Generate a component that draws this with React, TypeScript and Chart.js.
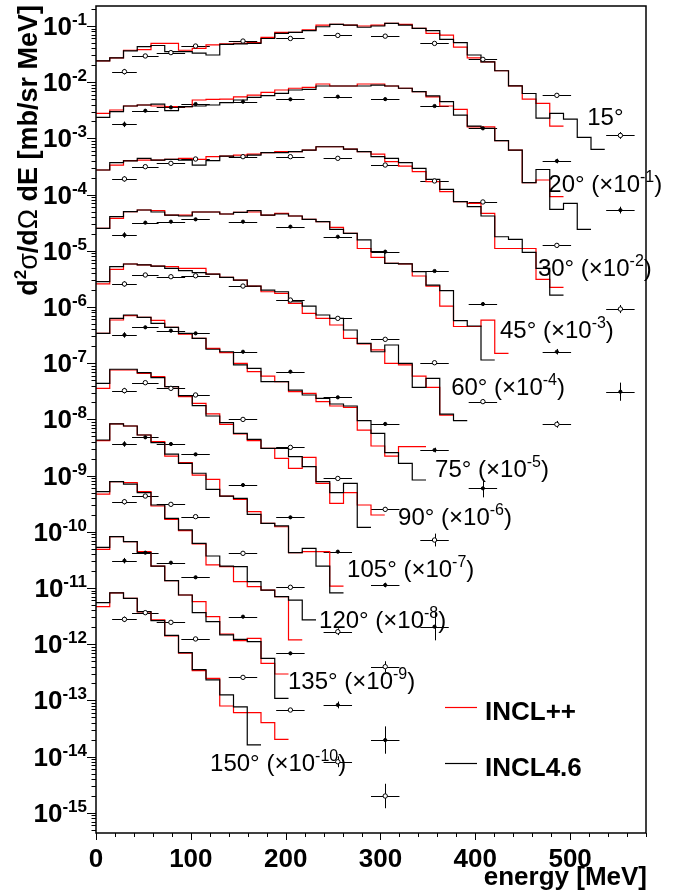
import React, { useEffect, useRef } from "react";
import { Chart, registerables } from "chart.js";

Chart.register(...registerables);

// ---------- axis ranges ----------
const X_MIN = 0;
const X_MAX = 580;
const Y_MIN = 4.37e-16;
const Y_MAX = 0.227;
const BIN_WIDTH = 14.5; // MeV, width of the model histogram bins

const X_MAJOR_TICKS = [0, 100, 200, 300, 400, 500];
const Y_DECADES = [-1, -2, -3, -4, -5, -6, -7, -8, -9, -10, -11, -12, -13, -14, -15];

// ---------- angles and their plotting factors ----------
const ANGLES = [15, 20, 30, 45, 60, 75, 90, 105, 120, 135, 150];
const SCALE_EXPONENTS = [0, -1, -2, -3, -4, -5, -6, -7, -8, -9, -10];

// ---------- INCL++ (red) histograms, values as plotted (already scaled) ----------
const INCLPP_15 = [2.4e-2, 2.7e-2, 3.7e-2, 3.8e-2, 4.9e-2, 4.9e-2, 3.7e-2, 4.0e-2, 4.6e-2, 4.8e-2, 4.9e-2, 5.05e-2, 6.3e-2, 7.7e-2, 7.7e-2, 8.5e-2, 1.04e-1, 1.07e-1, 1.04e-1, 1.0e-1, 1.04e-1, 1.11e-1, 1.07e-1, 9.1e-2, 7.4e-2, 6.9e-2, 4.2e-2, 2.7e-2, 2.3e-2, 1.6e-2, 8.6e-3, 5.0e-3, 4.2e-3, 1.66e-3];
const INCLPP_20 = [2.79e-3, 3.2e-3, 3.77e-3, 3.93e-3, 3.77e-3, 3.67e-3, 3.67e-3, 4.82e-3, 4.96e-3, 5.0e-3, 5.5e-3, 5.9e-3, 6.6e-3, 7.26e-3, 7.8e-3, 8.1e-3, 9.3e-3, 8.56e-3, 8.56e-3, 9.3e-3, 9.3e-3, 8.56e-3, 7.8e-3, 6.8e-3, 5.5e-3, 3.77e-3, 3.29e-3, 1.61e-3, 1.61e-3, 9.1e-4, 6.2e-4, 1.63e-4, 1.82e-4, 9.2e-5];
const INCLPP_30 = [2.74e-4, 3.36e-4, 4.02e-4, 4.12e-4, 4.12e-4, 4.24e-4, 4.42e-4, 4.24e-4, 4.73e-4, 4.85e-4, 5.06e-4, 5.27e-4, 5.57e-4, 5.81e-4, 5.81e-4, 6.2e-4, 7.1e-4, 7.1e-4, 6.45e-4, 5.81e-4, 5.27e-4, 3.86e-4, 3.22e-4, 2.56e-4, 1.7e-4, 1.13e-4, 7.5e-5, 7.0e-5, 4.64e-5, 1.1e-5, 1.1e-5, 1.1e-5, 3.1e-6, 2.24e-6];
const INCLPP_45 = [2.51e-5, 3.78e-5, 4.97e-5, 5.32e-5, 5.17e-5, 4.33e-5, 4.33e-5, 4.9e-5, 4.9e-5, 4.52e-5, 4.84e-5, 4.9e-5, 4.33e-5, 4.64e-5, 4.16e-5, 3.63e-5, 3.3e-5, 2.61e-5, 2.05e-5, 1.1e-5, 7.66e-6, 5.99e-6, 5.84e-6, 3.56e-6, 2.36e-6, 1.04e-6, 4.5e-7, 4.5e-7, 5.85e-7, 1.5e-7];
const INCLPP_60 = [2.57e-6, 4.68e-6, 5.82e-6, 5.6e-6, 5.36e-6, 5.22e-6, 4.88e-6, 4.88e-6, 3.86e-6, 3.37e-6, 3.02e-6, 2.36e-6, 1.87e-6, 1.75e-6, 1.16e-6, 7.7e-7, 6.28e-7, 4.78e-7, 2.77e-7, 2.2e-7, 1.72e-7, 9.95e-8, 9.3e-8, 5.9e-8, 3.71e-8, 1.19e-8];
const INCLPP_75 = [3.4e-7, 5.87e-7, 7.0e-7, 6.55e-7, 5.8e-7, 4.35e-7, 3.3e-7, 2.77e-7, 1.84e-7, 1.54e-7, 9.95e-8, 7.07e-8, 5.9e-8, 4.69e-8, 3.11e-8, 2.91e-8, 2.07e-8, 1.73e-8, 1.64e-8, 6.47e-9, 3.36e-9, 2.23e-9, 3.27e-9, 3.27e-9];
const INCLPP_90 = [3.57e-8, 7.57e-8, 7.57e-8, 6.6e-8, 5.76e-8, 3.82e-8, 2.54e-8, 1.93e-8, 1.25e-8, 8.17e-9, 5.5e-9, 4.18e-9, 3.06e-9, 2.03e-9, 1.35e-9, 2.11e-9, 7.3e-10, 3.21e-10, 4.97e-10, 3.0e-10, 1.99e-10];
const INCLPP_105 = [4.18e-9, 8.3e-9, 7.63e-9, 5.28e-9, 4.02e-9, 2.23e-9, 1.7e-9, 1.02e-9, 8.6e-10, 4.33e-10, 3.78e-10, 2.28e-10, 1.41e-10, 1.23e-10, 4.25e-11, 4.43e-11, 4.43e-11, 1.08e-11];
const INCLPP_120 = [4.7e-10, 7.8e-10, 7.5e-10, 5.17e-10, 2.88e-10, 1.67e-10, 1.05e-10, 6.06e-11, 2.57e-11, 2.4e-11, 1.3e-11, 1.06e-11, 9.2e-12, 7.0e-12, 1.19e-12];
const INCLPP_135 = [4.88e-11, 8.2e-11, 6.7e-11, 4.43e-11, 2.46e-11, 1.35e-11, 7.5e-12, 5.7e-12, 3.09e-12, 1.52e-12, 1.16e-12, 1.27e-12, 4.57e-13, 2.95e-13];
const INCLPP_150 = [4.66e-12, 8.2e-12, 6.55e-12, 3.74e-12, 2.7e-12, 1.4e-12, 6.9e-13, 3.38e-13, 2.47e-13, 7.95e-14, 6.06e-14, 6.06e-14, 4.02e-14, 2.03e-14];

// ---------- INCL4.6 (black) histograms ----------
const INCL46_15 = [2.4e-2, 2.7e-2, 3.6e-2, 4.3e-2, 4.5e-2, 3.5e-2, 3.5e-2, 3.3e-2, 3.05e-2, 4.7e-2, 4.8e-2, 4.9e-2, 6.0e-2, 7.4e-2, 7.7e-2, 8.3e-2, 9.7e-2, 1.07e-1, 1.04e-1, 9.5e-2, 1.0e-1, 1.11e-1, 1.04e-1, 9.1e-2, 8.3e-2, 5.8e-2, 5.05e-2, 3.05e-2, 2.3e-2, 1.6e-2, 8.6e-3, 6.3e-3, 2.3e-3, 2.8e-3, 2.2e-3, 1.04e-3, 6.4e-4];
const INCL46_20 = [2.37e-3, 3.0e-3, 3.77e-3, 3.93e-3, 4.09e-3, 3.11e-3, 3.67e-3, 3.77e-3, 3.93e-3, 4.32e-3, 4.82e-3, 5.38e-3, 5.76e-3, 6.34e-3, 7.26e-3, 7.46e-3, 8.56e-3, 8.56e-3, 8.56e-3, 8.56e-3, 8.9e-3, 8.56e-3, 7.8e-3, 6.8e-3, 5.7e-3, 4.5e-3, 2.6e-3, 1.66e-3, 1.51e-3, 9.1e-4, 6.2e-4, 1.63e-4, 2.8e-4, 5.47e-5, 7.0e-5, 2.41e-5];
const INCL46_30 = [2.74e-4, 3.7e-4, 3.97e-4, 4.42e-4, 4.12e-4, 4.24e-4, 4.12e-4, 3.36e-4, 4.02e-4, 4.85e-4, 4.6e-4, 5.06e-4, 5.57e-4, 5.57e-4, 5.81e-4, 6.2e-4, 7.1e-4, 7.1e-4, 6.45e-4, 5.81e-4, 4.73e-4, 4.42e-4, 3.7e-4, 2.93e-4, 1.87e-4, 1.24e-4, 7.5e-5, 6.1e-5, 4.16e-5, 1.78e-5, 1.6e-5, 9.4e-6, 4.88e-6, 1.63e-6];
const INCL46_45 = [2.51e-5, 4.05e-5, 4.97e-5, 5.32e-5, 4.9e-5, 4.33e-5, 4.16e-5, 4.9e-5, 4.9e-5, 4.52e-5, 4.84e-5, 5.17e-5, 4.33e-5, 4.52e-5, 4.16e-5, 3.63e-5, 3.3e-5, 2.41e-5, 2.05e-5, 1.56e-5, 9.65e-6, 5.99e-6, 5.84e-6, 4.25e-6, 2.46e-6, 1.95e-6, 5.7e-7, 4.59e-7, 1.14e-7];
const INCL46_60 = [2.82e-6, 5.22e-6, 5.82e-6, 5.6e-6, 5.36e-6, 4.88e-6, 4.43e-6, 4.08e-6, 3.86e-6, 3.37e-6, 3.02e-6, 2.36e-6, 2.0e-6, 1.87e-6, 1.24e-6, 1.04e-6, 7.2e-7, 6.28e-7, 3.9e-7, 2.26e-7, 1.6e-7, 2.11e-7, 9.95e-8, 3.71e-8, 5.36e-8, 1.24e-8, 9.5e-9];
const INCL46_75 = [3.4e-7, 6.28e-7, 7.2e-7, 6.55e-7, 5.12e-7, 4.35e-7, 3.4e-7, 2.77e-7, 1.77e-7, 1.6e-7, 9.3e-8, 8.1e-8, 4.69e-8, 4.69e-8, 3.33e-8, 2.72e-8, 2.37e-8, 1.88e-8, 1.73e-8, 9.5e-9, 5.65e-9, 2.56e-9, 1.65e-9, 8.35e-10];
const INCL46_90 = [4.38e-8, 7.8e-8, 7.8e-8, 6.8e-8, 5.53e-8, 3.82e-8, 2.64e-8, 1.76e-8, 1.15e-8, 8.75e-9, 5.65e-9, 4.42e-9, 3.06e-9, 3.06e-9, 2.17e-9, 1.44e-9, 7.8e-10, 4.97e-10, 7.3e-10, 1.2e-10];
const INCL46_105 = [4.3e-9, 8.3e-9, 7.63e-9, 5.28e-9, 3.85e-9, 2.42e-9, 1.65e-9, 1.1e-9, 5.7e-10, 4.33e-10, 3.94e-10, 2.05e-10, 1.41e-10, 1.27e-10, 4.25e-11, 5.08e-11, 2.46e-11, 8.2e-12];
const INCL46_120 = [5.17e-10, 7.8e-10, 7.07e-10, 4.97e-10, 3.0e-10, 1.74e-10, 1.08e-10, 6.23e-11, 3.71e-11, 2.46e-11, 2.4e-11, 1.3e-11, 9.2e-12, 7.0e-12, 6.1e-12, 2.7e-12];
const INCL46_135 = [5.3e-11, 8.2e-11, 6.7e-11, 4.25e-11, 2.46e-11, 1.35e-11, 7.5e-12, 3.64e-12, 2.52e-12, 1.46e-12, 1.22e-12, 1.11e-12, 5.6e-13, 1.09e-13];
const INCL46_150 = [5.48e-12, 8.2e-12, 6.55e-12, 3.79e-12, 2.62e-12, 1.44e-12, 7.07e-13, 3.52e-13, 2.31e-13, 1.25e-13, 7.7e-14, 1.61e-14];

// ---------- experimental data ----------
const EXP_ENERGY = [30, 52, 79, 105, 155, 205, 255, 305, 357, 408, 486, 553];
const EXP_ENERGY_ERR = [13, 14, 15, 15, 15, 15, 15, 15, 15, 15, 15, 15];

const EXP_15 = [1.54e-2, 2.93e-2, 3.36e-2, 4.4e-2, 5.4e-2, 6.0e-2, 6.8e-2, 6.6e-2, 4.9e-2, 2.55e-2, 5.84e-3, 1.13e-3];
const EXP_20 = [1.78e-3, 3.11e-3, 3.57e-3, 4.09e-3, 4.5e-3, 4.96e-3, 5.53e-3, 5.0e-3, 3.77e-3, 1.51e-3, 3.96e-4, 5.3e-5];
const EXP_30 = [1.9e-4, 3.14e-4, 3.6e-4, 4.3e-4, 4.73e-4, 4.73e-4, 4.42e-4, 3.36e-4, 1.75e-4, 7.4e-5, 1.25e-5, 9.2e-7];
const EXP_45 = [1.91e-5, 3.17e-5, 3.3e-5, 3.63e-5, 3.3e-5, 2.69e-5, 1.78e-5, 9.65e-6, 4.37e-6, 1.13e-6, 1.6e-7, 3.11e-8];
const EXP_60 = [2.57e-6, 3.71e-6, 3.46e-6, 3.6e-6, 2.36e-6, 1.33e-6, 6.28e-7, 2.66e-7, 1.02e-7, 2.07e-8, 8.17e-9];
const EXP_75 = [3.18e-7, 4.35e-7, 3.79e-7, 3.4e-7, 1.6e-7, 7.07e-8, 2.47e-8, 8.3e-9, 2.85e-9, 5.94e-10];
const EXP_90 = [3.25e-8, 4.5e-8, 3.57e-8, 2.72e-8, 1.0e-8, 3.18e-9, 8.9e-10, 2.51e-10, 7.14e-11];
const EXP_105 = [3.65e-9, 4.8e-9, 3.65e-9, 2.39e-9, 6.8e-10, 1.81e-10, 4.43e-11, 1.13e-11, 2.05e-12];
const EXP_120 = [3.43e-10, 4.33e-10, 3.08e-10, 1.86e-10, 4.14e-11, 1.03e-11, 1.67e-12, 3.98e-13];
const EXP_135 = [3.06e-11, 4.25e-11, 2.82e-11, 1.55e-11, 3.09e-12, 6.88e-13, 8.3e-14, 1.97e-14];
const EXP_150 = [2.77e-12, 3.64e-12, 2.45e-12, 1.24e-12, 2.57e-13, 6.74e-14, 8.1e-15, 1.99e-15];

// multiplicative (log-symmetric) uncertainty factors of the data
const EXP_ERR_15 = [1.12, 1.06, 1.06, 1.06, 1.06, 1.06, 1.06, 1.06, 1.06, 1.06, 1.08, 1.15];
const EXP_ERR_20 = [1.12, 1.06, 1.06, 1.06, 1.06, 1.06, 1.06, 1.06, 1.06, 1.06, 1.1, 1.15];
const EXP_ERR_30 = [1.12, 1.06, 1.06, 1.06, 1.06, 1.06, 1.06, 1.06, 1.06, 1.06, 1.1, 1.18];
const EXP_ERR_45 = [1.12, 1.06, 1.06, 1.06, 1.06, 1.06, 1.06, 1.06, 1.06, 1.08, 1.12, 1.45];
const EXP_ERR_60 = [1.12, 1.06, 1.06, 1.06, 1.06, 1.06, 1.06, 1.06, 1.06, 1.1, 1.15];
const EXP_ERR_75 = [1.12, 1.06, 1.06, 1.06, 1.06, 1.06, 1.06, 1.06, 1.1, 1.45];
const EXP_ERR_90 = [1.12, 1.06, 1.06, 1.06, 1.06, 1.06, 1.06, 1.1, 1.3];
const EXP_ERR_105 = [1.12, 1.06, 1.06, 1.06, 1.06, 1.06, 1.06, 1.1, 1.75];
const EXP_ERR_120 = [1.12, 1.06, 1.06, 1.06, 1.06, 1.06, 1.15, 1.25];
const EXP_ERR_135 = [1.12, 1.06, 1.06, 1.06, 1.06, 1.06, 1.15, 1.75];
const EXP_ERR_150 = [1.12, 1.06, 1.06, 1.06, 1.06, 1.06, 1.25, 1.65];

// open marker (true) or filled marker (false) for each angle
const EXP_OPEN = [true, false, true, false, true, false, true, false, true, false, true];

// angle label anchors in data coordinates (energy, value): left edge / vertical centre
const LABEL_ENERGY = [518, 477, 466, 426, 374.5, 357.6, 318.6, 264.8, 235.2, 202.5, 120.3];
const LABEL_VALUE = [2.5e-3, 1.6e-4, 5.15e-6, 3.9e-7, 3.78e-8, 1.36e-9, 1.91e-10, 2.18e-11, 2.8e-12, 2.3e-13, 8.0e-15];

const MODEL_NAMES = ["INCL++", "INCL4.6"];
const MODEL_COLORS = ["#ff0000", "#000000"];

const INCLPP = [INCLPP_15, INCLPP_20, INCLPP_30, INCLPP_45, INCLPP_60, INCLPP_75, INCLPP_90, INCLPP_105, INCLPP_120, INCLPP_135, INCLPP_150];
const INCL46 = [INCL46_15, INCL46_20, INCL46_30, INCL46_45, INCL46_60, INCL46_75, INCL46_90, INCL46_105, INCL46_120, INCL46_135, INCL46_150];
const EXP = [EXP_15, EXP_20, EXP_30, EXP_45, EXP_60, EXP_75, EXP_90, EXP_105, EXP_120, EXP_135, EXP_150];
const EXP_ERR = [EXP_ERR_15, EXP_ERR_20, EXP_ERR_30, EXP_ERR_45, EXP_ERR_60, EXP_ERR_75, EXP_ERR_90, EXP_ERR_105, EXP_ERR_120, EXP_ERR_135, EXP_ERR_150];

const FONT = "'Liberation Sans', Arial, Helvetica, sans-serif";

function histPoints(values: number[]) {
  const pts = values.map((v, k) => ({ x: k * BIN_WIDTH, y: v }));
  pts.push({ x: values.length * BIN_WIDTH, y: values[values.length - 1] });
  return pts;
}

type Seg = { t: string; f: string; dy?: number };

function segWidth(ctx: CanvasRenderingContext2D, segs: Seg[]) {
  let w = 0;
  for (const s of segs) {
    ctx.font = s.f;
    w += ctx.measureText(s.t).width;
  }
  return w;
}

function drawSegs(ctx: CanvasRenderingContext2D, segs: Seg[], x: number, y: number, align: "left" | "right" | "center") {
  const w = segWidth(ctx, segs);
  let cx = align === "left" ? x : align === "right" ? x - w : x - w / 2;
  ctx.textAlign = "left";
  ctx.textBaseline = "alphabetic";
  for (const s of segs) {
    ctx.font = s.f;
    ctx.fillText(s.t, cx, y + (s.dy || 0));
    cx += ctx.measureText(s.t).width;
  }
}

const errorBarPlugin = {
  id: "errorBars",
  beforeDatasetsDraw(chart: any) {
    const { ctx } = chart;
    const xs = chart.scales.x;
    const ys = chart.scales.y;
    ctx.save();
    ctx.strokeStyle = "#000";
    ctx.lineWidth = 1;
    EXP.forEach((vals, a) => {
      vals.forEach((v, i) => {
        const e = EXP_ENERGY[i];
        const de = EXP_ENERGY_ERR[i];
        const f = EXP_ERR[a][i];
        const px = Math.round(xs.getPixelForValue(e)) + 0.5;
        const py = Math.round(ys.getPixelForValue(v)) + 0.5;
        ctx.beginPath();
        ctx.moveTo(xs.getPixelForValue(e - de), py);
        ctx.lineTo(xs.getPixelForValue(e + de), py);
        ctx.moveTo(px, ys.getPixelForValue(v * f));
        ctx.lineTo(px, ys.getPixelForValue(v / f));
        ctx.stroke();
      });
    });
    ctx.restore();
  },
};

const decorPlugin = {
  id: "decor",
  afterDraw(chart: any) {
    const { ctx, chartArea } = chart;
    const xs = chart.scales.x;
    const ys = chart.scales.y;
    const { left, right, top, bottom } = chartArea;
    ctx.save();
    ctx.fillStyle = "#000";
    ctx.strokeStyle = "#000";

    // frame
    ctx.lineWidth = 1.5;
    ctx.strokeRect(left, top, right - left, bottom - top);

    // y ticks (outside, on the left)
    ctx.lineWidth = 1;
    ctx.beginPath();
    for (let n = -16; n <= 0; n++) {
      for (let m = 1; m <= 9; m++) {
        const v = m * Math.pow(10, n);
        if (v < Y_MIN || v > Y_MAX) continue;
        const py = Math.round(ys.getPixelForValue(v)) + 0.5;
        const len = m === 1 ? 9 : 4.5;
        ctx.moveTo(left, py);
        ctx.lineTo(left - len, py);
      }
    }
    // x ticks (below)
    for (let e = X_MIN; e <= X_MAX; e += 20) {
      const px = Math.round(xs.getPixelForValue(e)) + 0.5;
      const len = e % 100 === 0 ? 7 : 4;
      ctx.moveTo(px, bottom);
      ctx.lineTo(px, bottom + len);
    }
    ctx.stroke();

    // y tick labels
    const bold26 = `bold 26px ${FONT}`;
    const bold17 = `bold 17px ${FONT}`;
    for (const n of Y_DECADES) {
      const py = ys.getPixelForValue(Math.pow(10, n));
      drawSegs(ctx, [{ t: "10", f: bold26 }, { t: String(n), f: bold17, dy: -10 }], left - 9, py + 9, "right");
    }
    // x tick labels
    ctx.font = `bold 26px ${FONT}`;
    ctx.textAlign = "center";
    for (const e of X_MAJOR_TICKS) {
      ctx.fillText(String(e), xs.getPixelForValue(e), bottom + 34);
    }
    // x title
    ctx.textAlign = "right";
    ctx.fillText("energy [MeV]", right + 1, bottom + 52);

    // y title (rotated)
    ctx.save();
    ctx.translate(37, top - 1);
    ctx.rotate(-Math.PI / 2);
    const b27 = `bold 27px ${FONT}`;
    const n27 = `27px ${FONT}`;
    drawSegs(ctx, [
      { t: "d", f: b27 },
      { t: "2", f: `bold 17px ${FONT}`, dy: -11 },
      { t: "σ", f: n27 },
      { t: "/d", f: b27 },
      { t: "Ω", f: n27 },
      { t: " dE [mb/sr MeV]", f: b27 },
    ], 0, 0, "right");
    ctx.restore();

    // angle labels
    const n24 = `24px ${FONT}`;
    const n16 = `16px ${FONT}`;
    ANGLES.forEach((ang, i) => {
      const px = xs.getPixelForValue(LABEL_ENERGY[i]);
      const py = ys.getPixelForValue(LABEL_VALUE[i]);
      const segs: Seg[] = [{ t: `${ang}°`, f: n24 }];
      if (SCALE_EXPONENTS[i] !== 0) {
        segs.push({ t: " (×10", f: n24 });
        segs.push({ t: String(SCALE_EXPONENTS[i]), f: n16, dy: -10 });
        segs.push({ t: ")", f: n24 });
      }
      drawSegs(ctx, segs, px, py + 8.5, "left");
    });

    // legend
    const legendY = [707, 763];
    MODEL_NAMES.forEach((name, i) => {
      ctx.strokeStyle = MODEL_COLORS[i];
      ctx.lineWidth = 1.2;
      ctx.beginPath();
      ctx.moveTo(445, legendY[i] + 0.5);
      ctx.lineTo(477, legendY[i] + 0.5);
      ctx.stroke();
      ctx.font = `bold 26px ${FONT}`;
      ctx.textAlign = "left";
      ctx.fillStyle = "#000";
      ctx.fillText(name, 485, legendY[i] + 13);
    });

    ctx.restore();
  },
};

export default function App() {
  const canvasRef = useRef<HTMLCanvasElement | null>(null);

  useEffect(() => {
    const canvas = canvasRef.current;
    if (!canvas) return;

    const datasets: any[] = [];
    // experimental markers (drawn on top)
    EXP.forEach((vals, a) => {
      datasets.push({
        label: `exp ${ANGLES[a]}`,
        data: vals.map((v, i) => ({ x: EXP_ENERGY[i], y: v })),
        showLine: false,
        pointStyle: "circle",
        pointRadius: EXP_OPEN[a] ? 2.2 : 1.6,
        pointBackgroundColor: EXP_OPEN[a] ? "#ffffff" : "#000000",
        pointBorderColor: "#000000",
        pointBorderWidth: 1,
        borderColor: "#000000",
      });
    });
    // INCL4.6 (black)
    INCL46.forEach((vals, a) => {
      datasets.push({
        label: `${MODEL_NAMES[1]} ${ANGLES[a]}`,
        data: histPoints(vals),
        stepped: true,
        borderColor: MODEL_COLORS[1],
        borderWidth: 1.2,
        pointRadius: 0,
        fill: false,
      });
    });
    // INCL++ (red)
    INCLPP.forEach((vals, a) => {
      datasets.push({
        label: `${MODEL_NAMES[0]} ${ANGLES[a]}`,
        data: histPoints(vals),
        stepped: true,
        borderColor: MODEL_COLORS[0],
        borderWidth: 1.2,
        pointRadius: 0,
        fill: false,
      });
    });

    const chart = new Chart(canvas, {
      type: "line",
      data: { datasets },
      options: {
        animation: false,
        responsive: false,
        devicePixelRatio: 1,
        events: [],
        layout: { padding: { left: 0, right: 44, top: 6, bottom: 0 } },
        plugins: { legend: { display: false }, tooltip: { enabled: false } },
        scales: {
          x: {
            type: "linear",
            min: X_MIN,
            max: X_MAX,
            ticks: { display: false },
            grid: { display: false },
            border: { display: false },
            afterFit: (s: any) => {
              s.height = 57;
            },
          },
          y: {
            type: "logarithmic",
            min: Y_MIN,
            max: Y_MAX,
            ticks: { display: false },
            grid: { display: false },
            border: { display: false },
            afterFit: (s: any) => {
              s.width = 96;
            },
          },
        },
      } as any,
      plugins: [errorBarPlugin, decorPlugin],
    });

    return () => chart.destroy();
  }, []);

  return (
    <div style={{ position: "fixed", left: 0, top: 0, width: 690, height: 890, background: "#fff" }}>
      <canvas ref={canvasRef} width={690} height={890} style={{ display: "block", width: 690, height: 890 }} />
    </div>
  );
}
